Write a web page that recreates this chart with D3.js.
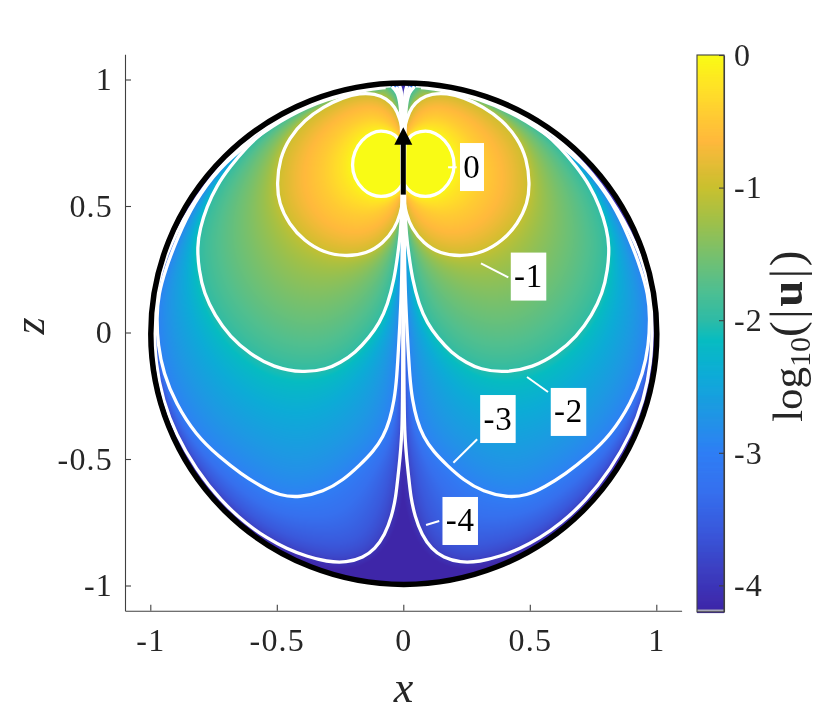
<!DOCTYPE html>
<html><head><meta charset="utf-8">
<script src="https://cdn.jsdelivr.net/npm/d3@7"></script>
<style>
html,body{margin:0;padding:0;background:#fff;}
#wrap{position:relative;width:830px;height:718px;overflow:hidden;}
canvas,svg{position:absolute;left:0;top:0;}
text{font-family:"Liberation Serif",serif;fill:#262626;}
</style></head><body><div id="wrap"><canvas id="field" width="830" height="718"></canvas><svg id="chart" width="830" height="718"></svg></div>
<script>
// ---- data (right half; the figure is mirror symmetric about x=0)
const xTicks=[-1,-0.5,0,0.5,1];
const zTicks=[-1,-0.5,0,0.5,1];
const cbTicks=[-4,-3,-2,-1,0];
const levels=[0,-1,-2,-3,-4];
const cbStops=[0,-0.15,-0.3,-0.45,-0.65,-0.85,-1,-1.25,-1.5,-1.75,-2,-2.15,-2.4,-2.7,-3,-3.3,-3.6,-3.9,-4.2];
const cbColors=["#f9fb15","#fdeb20","#ffdc2a","#ffcb33","#ffb93c","#dfbc33","#c9c02e","#a0c048","#78c06c","#52bf8e","#2dbba6","#06bcc1","#0cacd6","#1f97e4","#2f7ff5","#3670ee","#3a58db","#3d3ec0","#3e26a8"];
const contour0=[[0.001,0.734],[0.02,0.77],[0.046,0.79],[0.089,0.799],[0.125,0.79],[0.165,0.762],[0.194,0.715],[0.204,0.662],[0.194,0.609],[0.158,0.562],[0.125,0.543],[0.089,0.535],[0.046,0.543],[0.02,0.562],[0.001,0.59]];
const contour1=[[0.001,0.79],[0.013,0.845],[0.033,0.892],[0.066,0.925],[0.112,0.944],[0.172,0.946],[0.237,0.93],[0.316,0.892],[0.39,0.84],[0.452,0.768],[0.488,0.688],[0.5,0.59],[0.492,0.511],[0.452,0.428],[0.392,0.362],[0.316,0.316],[0.231,0.3],[0.145,0.311],[0.079,0.353],[0.033,0.412],[0.011,0.471],[0.001,0.524]];
const contour2=[[0.045,0.972],[0.022,0.95],[0.012,0.9],[0.008,0.85],[0.005,0.7],[0.004,0.5],[0.012,0.385],[0.022,0.306],[0.035,0.215],[0.062,0.109],[0.094,0.038],[0.135,-0.02],[0.19,-0.08],[0.25,-0.12],[0.303,-0.145],[0.395,-0.16],[0.514,-0.138],[0.606,-0.085],[0.685,-0.017],[0.746,0.069],[0.788,0.155],[0.808,0.247],[0.815,0.339],[0.804,0.41],[0.777,0.497],[0.738,0.58],[0.685,0.655],[0.619,0.734],[0.553,0.794],[0.5,0.833],[0.42,0.88],[0.3,0.93],[0.18,0.96],[0.09,0.97]];
const contour3=[[0.03,0.97],[0.01,0.95],[0.005,0.9],[0.004,0.8],[0.003,0.3],[0.01,0.1],[0.016,-0.01],[0.026,-0.188],[0.036,-0.267],[0.053,-0.346],[0.079,-0.412],[0.119,-0.471],[0.172,-0.524],[0.237,-0.583],[0.316,-0.63],[0.409,-0.652],[0.488,-0.645],[0.56,-0.61],[0.64,-0.56],[0.73,-0.49],[0.82,-0.405],[0.9,-0.28],[0.948,-0.16],[0.97,-0.05],[0.975,0.06],[0.968,0.15],[0.94,0.25],[0.895,0.37],[0.83,0.51],[0.73,0.65],[0.6,0.76],[0.45,0.86],[0.3,0.925],[0.15,0.96],[0.07,0.968]];
const contour4=[[0.015,0.975],[0.004,0.95],[0.001,0.8],[0.001,0.5],[0.002,-0.1],[0.003,-0.41],[0.02,-0.557],[0.029,-0.649],[0.046,-0.728],[0.073,-0.8],[0.112,-0.856],[0.158,-0.89],[0.224,-0.91],[0.303,-0.906],[0.382,-0.885],[0.461,-0.855],[0.54,-0.812],[0.62,-0.757],[0.72,-0.667],[0.82,-0.54],[0.9,-0.4],[0.95,-0.27],[0.98,-0.12],[0.985,0.03],[0.98,0.15],[0.94,0.31],[0.85,0.49],[0.72,0.67],[0.55,0.82],[0.35,0.92],[0.15,0.97],[0.05,0.975]];
const contours=[contour0,contour1,contour2,contour3,contour4];
const labelText=["0","-1","-2","-3","-4"];
const labelX=[0.2715,0.495,0.653,0.374,0.225];
const labelZ=[0.654,0.221,-0.314,-0.342,-0.745];
const leaderA=[[0.177,0.653],[0.307,0.273],[0.489,-0.176],[0.198,-0.515],[0.09,-0.761]];
const leaderB=[[0.211,0.653],[0.415,0.218],[0.572,-0.235],[0.292,-0.422],[0.142,-0.745]];
const arrowFrom=[0,0.545], arrowTo=[0,0.811];
const wall={cx:0.002,cz:-0.0047,rx:1.0,rz:0.991};

// ---- layout
const x=d3.scaleLinear().domain([-1.1,1.1]).range([125,681.6]);
const z=d3.scaleLinear().domain([-1.1,1.1]).range([610.8,54.2]);
const cb=d3.scaleLinear().domain([0,-4.2]).range([55,611.9]);
const color=d3.scaleLinear().domain(cbStops.slice().reverse()).range(cbColors.slice().reverse()).clamp(true);
const svg=d3.select("#chart");
const lineGen=d3.line().x(d=>x(d[0])).y(d=>z(d[1])).curve(d3.curveBasis);
const lineMirror=d3.line().x(d=>x(-d[0])).y(d=>z(d[1])).curve(d3.curveBasis);

// ---- sample contours through the SVG path so the field matches them
const probe=svg.append("path").attr("fill","none");
const samples=contours.map(c=>{
  probe.attr("d",lineGen(c));
  const n=probe.node(),L=n.getTotalLength(),pts=[];
  for(let s=0;s<=L;s+=4){const p=n.getPointAtLength(s);pts.push([p.x,p.y]);}
  return pts;
});
probe.remove();
function softDist(pts,px,py){
  let sum=0;
  for(let i=0;i<pts.length;i++){
    const dx=pts[i][0]-px,dy=pts[i][1]-py;
    let d2=dx*dx+dy*dy; if(d2<0.25)d2=0.25;
    sum+=1/(d2*d2*d2);
  }
  return Math.pow(sum,-1/6);
}
function valueAt(px,py){
  let k=-1;
  for(let i=0;i<samples.length;i++){ if(d3.polygonContains(samples[i],[px,py])){k=i;break;} }
  if(k===0) return 0;
  if(k===-1){ return -4-Math.min(0.2,softDist(samples[4],px,py)*0.03); }
  const dIn=softDist(samples[k-1],px,py), dOut=softDist(samples[k],px,py);
  let t=dOut/(dOut+dIn);
  if(k===4) t=Math.pow(t,0.7);
  return levels[k]+t;
}
// ---- paint the field
const lut=d3.range(0,1025).map(i=>d3.rgb(color(-4.2*i/1024)));
const step=1;
const x0=x(0), W=Math.ceil((x(1.02)-x0)/step), y0=z(1.02), H=Math.ceil((z(-1.02)-y0)/step);
const off=document.createElement("canvas"); off.width=2*W; off.height=H;
const octx=off.getContext("2d"), img=octx.createImageData(2*W,H);
for(let j=0;j<H;j++){
  const py=y0+(j+0.5)*step;
  for(let i=0;i<W;i++){
    const px=x0+(i+0.5)*step;
    const fx=(px-x(wall.cx))/(x(wall.cx+wall.rx)-x(wall.cx)), fz=(py-z(wall.cz))/(z(wall.cz-wall.rz)-z(wall.cz));
    if(fx*fx+fz*fz>1.01) continue;
    const v=valueAt(px,py);
    const c=lut[Math.max(0,Math.min(1024,Math.round(-v/4.2*1024)))];
    for(const ii of [W+i,W-1-i]){
      const o=(j*2*W+ii)*4;
      img.data[o]=c.r;img.data[o+1]=c.g;img.data[o+2]=c.b;img.data[o+3]=255;
    }
  }
}
octx.putImageData(img,0,0);
const ctx=document.getElementById("field").getContext("2d");
ctx.save();
ctx.beginPath();
ctx.ellipse(x(wall.cx),z(wall.cz),x(wall.cx+wall.rx)-x(wall.cx),z(wall.cz-wall.rz)-z(wall.cz),0,0,2*Math.PI);
ctx.clip();
ctx.imageSmoothingEnabled=true;
ctx.drawImage(off,x0-W*step,y0,2*W*step,H*step);
ctx.restore();

// ---- contour lines
const gC=svg.append("g").attr("fill","none").attr("stroke","#fff").attr("stroke-width",3.3);
contours.forEach(c=>{
  gC.append("path").attr("d",lineGen(c));
  gC.append("path").attr("d",lineMirror(c));
});
// ---- wall
svg.append("ellipse").attr("cx",x(wall.cx)).attr("cy",z(wall.cz))
  .attr("rx",x(wall.cx+wall.rx)-x(wall.cx)).attr("ry",z(wall.cz-wall.rz)-z(wall.cz))
  .attr("fill","none").attr("stroke","#000").attr("stroke-width",5.5);
// ---- arrow
svg.append("line").attr("x1",x(arrowFrom[0])).attr("x2",x(arrowTo[0]))
  .attr("y1",z(arrowFrom[1])).attr("y2",z(arrowTo[1])+10).attr("stroke","#000").attr("stroke-width",5);
svg.append("path").attr("fill","#000")
  .attr("d",`M${x(arrowTo[0])},${z(arrowTo[1])}l9,17.5h-18z`);
// ---- leaders and labels
labelText.forEach((t,i)=>{
  svg.append("line").attr("x1",x(leaderA[i][0])).attr("y1",z(leaderA[i][1]))
    .attr("x2",x(leaderB[i][0])).attr("y2",z(leaderB[i][1])).attr("stroke","#fff").attr("stroke-width",2);
  const w=t.length>1?35.5:24;
  svg.append("rect").attr("x",x(labelX[i])-w/2).attr("y",z(labelZ[i])-24).attr("width",w).attr("height",48).attr("fill","#fff");
  svg.append("text").attr("x",x(labelX[i])).attr("y",z(labelZ[i])+10.5).attr("text-anchor","middle")
    .attr("font-size",33).attr("letter-spacing",0.8).style("fill","#000").text(t);
});
// ---- axes
const fmt=d=>String(d);
const axisCol="#404040";
function style(g){
  g.selectAll("path,line").attr("stroke",axisCol).attr("stroke-width",1.1);
  g.selectAll("text").attr("font-size",32).attr("letter-spacing",1.2).style("fill","#262626");
  g.attr("font-family",null);
}
svg.append("g").attr("transform",`translate(0,${z(-1.1)})`)
  .call(d3.axisBottom(x).tickValues(xTicks).tickFormat(fmt).tickSizeInner(-6).tickSizeOuter(0).tickPadding(17)).call(style);
svg.append("g").attr("transform",`translate(${x(-1.1)},0)`)
  .call(d3.axisLeft(z).tickValues(zTicks).tickFormat(fmt).tickSizeInner(-6).tickSizeOuter(0).tickPadding(12)).call(style);
svg.append("text").attr("x",403.5).attr("y",702).attr("text-anchor","middle").attr("font-size",44).attr("font-style","italic").text("x");
svg.append("text").attr("transform","translate(44,326) rotate(-90)").attr("text-anchor","middle").attr("font-size",44).attr("font-style","italic").text("z");
// ---- colour bar
const barX=697,barW=27;
const barVals=d3.range(0,1114).map(i=>-i*4.2/1113);
svg.append("g").selectAll("rect").data(barVals).join("rect")
  .attr("x",barX).attr("width",barW).attr("y",d=>cb(d)).attr("height",1.2).attr("fill",d=>color(d));
svg.append("rect").attr("x",barX).attr("width",barW).attr("y",cb(-4.2)-2.4).attr("height",2.4).attr("fill","#a8a8b8");
svg.append("rect").attr("x",barX).attr("width",barW).attr("y",cb(0)).attr("height",cb(-4.2)-cb(0)).attr("fill","none").attr("stroke",axisCol).attr("stroke-width",1.1);
svg.append("g").attr("transform",`translate(${barX+barW},0)`)
  .call(d3.axisRight(cb).tickValues(cbTicks).tickFormat(fmt).tickSizeInner(-5).tickSizeOuter(0).tickPadding(10)).call(style);
const cbl=svg.append("text").attr("transform","translate(802,335) rotate(-90)").attr("text-anchor","middle").attr("font-size",43);
cbl.append("tspan").text("log");
cbl.append("tspan").attr("font-size",30).attr("dy",8).text("10");
const par=cbl.append("tspan").attr("dy",-8).attr("font-size",47).attr("letter-spacing",2.5);
par.append("tspan").text("(|");
par.append("tspan").attr("font-weight","bold").text("u");
par.append("tspan").text("|)");
</script></body></html>
